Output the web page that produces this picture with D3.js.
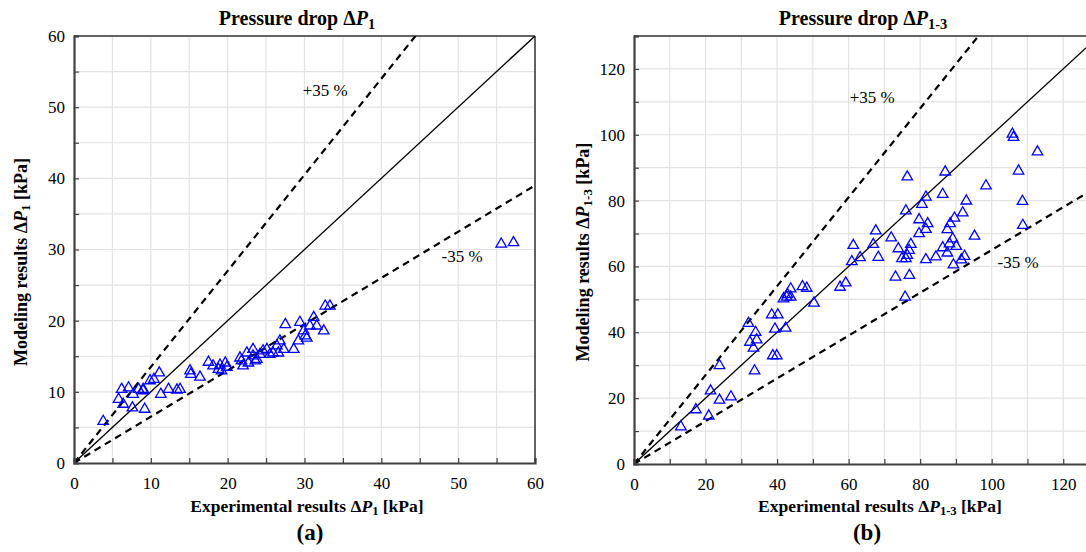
<!DOCTYPE html>
<html>
<head>
<meta charset="utf-8">
<script src="https://cdn.jsdelivr.net/npm/d3@7/dist/d3.min.js"></script>
<style>
  html, body { margin: 0; padding: 0; background: #fff; }
  svg { display: block; }
  text { font-family: "Liberation Serif", "Times New Roman", serif; fill: #000; }
</style>
</head>
<body>
<svg id="chart" width="1086" height="552"></svg>
<script>
// ---------- DATA ----------
// Panel (a): Pressure drop ΔP1
const expA = [3.8,6.2,7.1,7.7,5.8,6.4,7.6,8.4,9.0,9.0,9.2,9.9,10.4,11.1,11.3,12.3,13.4,13.8,15.1,15.2,16.4,17.5,18.1,18.8,19.0,19.7,19.9,19.2,21.6,21.8,22.0,22.5,22.7,23.3,23.3,23.6,23.8,24.2,24.6,25.1,25.5,25.9,26.4,26.8,27.3,26.6,27.5,28.6,29.2,29.4,29.9,30.1,30.3,30.7,31.2,31.6,32.5,32.7,33.3,55.6,57.2];
const modA = [6.0,10.5,10.7,9.8,9.1,8.4,7.9,10.5,10.5,10.3,7.7,11.7,11.9,12.8,9.8,10.5,10.4,10.5,13.1,12.6,12.2,14.3,13.8,13.3,13.9,14.2,13.6,13.1,14.9,14.5,13.8,15.6,14.2,16.1,15.2,14.5,14.7,15.4,15.9,16.1,15.4,15.6,16.6,17.3,16.1,15.6,19.6,16.1,17.3,19.9,18.7,18.0,17.7,19.4,20.6,19.4,18.7,22.2,22.2,30.9,31.1];
const ticksA = [0,10,20,30,40,50,60];

// Panel (b): Pressure drop ΔP1-3
const expB = [13.1,17.3,20.9,21.4,23.9,23.9,27.1,33.7,32.0,34.0,32.4,34.3,33.4,38.8,39.9,38.5,40.2,39.4,42.4,41.8,42.9,43.8,43.8,42.7,47.1,48.3,50.3,57.6,59.2,60.9,63.2,61.3,66.9,67.6,68.3,71.9,73.1,77.0,73.9,74.9,76.0,76.4,76.9,77.4,75.8,76.4,76.0,79.7,80.5,81.6,82.1,81.6,79.7,81.6,84.4,86.3,87.0,86.3,87.6,88.2,89.1,90.1,87.6,88.4,89.6,91.9,92.9,89.3,91.5,92.4,95.2,98.4,105.8,106.1,112.8,107.5,108.6,108.7];
const modB = [11.6,16.8,14.9,22.5,19.7,30.2,20.7,28.6,43.0,40.3,37.3,38.0,35.5,33.2,33.2,45.6,45.6,41.3,41.6,50.5,51.8,53.5,51.0,51.0,54.2,53.7,49.2,54.0,55.3,61.8,63.0,66.7,67.0,71.1,63.1,69.0,57.1,57.6,65.7,62.7,62.7,63.7,65.2,67.0,51.0,87.5,77.2,74.5,79.2,81.4,73.3,71.6,70.3,62.4,63.2,82.2,89.0,66.0,64.4,67.2,68.7,66.4,71.5,73.3,75.0,76.6,80.2,60.8,62.3,63.4,69.5,84.8,100.5,99.5,95.1,89.3,80.1,72.8];
const ticksB = [0,20,40,60,80,100,120];

const bandFactors = [1.35, 0.65];
const bandLabels = ["+35 %", "-35 %"];

// ---------- DRAW ----------
const svg = d3.select("#chart");

function panel(cfg) {
  const g = svg.append("g");
  const x = d3.scaleLinear().domain([0, cfg.max]).range([cfg.left, cfg.right]);
  const y = d3.scaleLinear().domain([0, cfg.max]).range([cfg.bottom, cfg.top]);

  const clipId = "clip" + cfg.id;
  svg.append("clipPath").attr("id", clipId).append("rect")
    .attr("x", cfg.left).attr("y", cfg.top)
    .attr("width", cfg.right - cfg.left).attr("height", cfg.bottom - cfg.top);

  const grid = d3.range(cfg.minor, cfg.max + 0.001, cfg.minor);
  g.append("g").selectAll("line").data(grid).join("line")
    .attr("x1", d => x(d)).attr("x2", d => x(d))
    .attr("y1", cfg.top).attr("y2", cfg.bottom)
    .attr("stroke", "#e3e3e3").attr("stroke-width", 1.2);
  g.append("g").selectAll("line").data(grid).join("line")
    .attr("x1", cfg.left).attr("x2", cfg.right)
    .attr("y1", d => y(d)).attr("y2", d => y(d))
    .attr("stroke", "#e3e3e3").attr("stroke-width", 1.2);

  g.append("line").attr("x1", cfg.left).attr("x2", cfg.right)
    .attr("y1", cfg.top).attr("y2", cfg.top)
    .attr("stroke", "#333").attr("stroke-width", 1.5);
  g.append("line").attr("x1", cfg.right).attr("x2", cfg.right)
    .attr("y1", cfg.top).attr("y2", cfg.bottom)
    .attr("stroke", "#333").attr("stroke-width", 1.5);

  const lines = g.append("g").attr("clip-path", `url(#${clipId})`);
  lines.append("line")
    .attr("x1", x(0)).attr("y1", y(0)).attr("x2", x(cfg.max)).attr("y2", y(cfg.max))
    .attr("stroke", "#000").attr("stroke-width", 1.3);
  bandFactors.forEach(f => {
    lines.append("line")
      .attr("x1", x(0)).attr("y1", y(0))
      .attr("x2", x(cfg.max)).attr("y2", y(cfg.max * f))
      .attr("stroke", "#000").attr("stroke-width", 2.2)
      .attr("stroke-dasharray", "7,5");
  });

  const tri = d3.symbol().type(d3.symbolTriangle).size(48);
  g.append("g").selectAll("path").data(cfg.xs.map((v, i) => [v, cfg.ys[i]])).join("path")
    .attr("d", tri)
    .attr("transform", d => `translate(${x(d[0])},${y(d[1]) + 1})`)
    .attr("fill", "none").attr("stroke", "#0000ff").attr("stroke-width", 1.3);

  const xMinor = d3.axisBottom(x).tickValues(d3.range(0, cfg.max + 0.001, cfg.minor))
    .tickSize(-5).tickFormat("");
  const yMinor = d3.axisLeft(y).tickValues(d3.range(0, cfg.max + 0.001, cfg.minor))
    .tickSize(-5).tickFormat("");
  const gx = g.append("g").attr("transform", `translate(0,${cfg.bottom})`).call(xMinor);
  const gy = g.append("g").attr("transform", `translate(${cfg.left},0)`).call(yMinor);
  [gx, gy].forEach(a => {
    a.select(".domain").attr("stroke", "#404040").attr("stroke-width", 2.2);
    a.selectAll(".tick line").attr("stroke", "#404040").attr("stroke-width", 1.2);
  });

  const xLab = d3.axisBottom(x).tickValues(cfg.ticks).tickSize(0).tickPadding(14);
  const yLab = d3.axisLeft(y).tickValues(cfg.ticks).tickSize(0).tickPadding(9);
  const lx = g.append("g").attr("transform", `translate(0,${cfg.bottom})`).call(xLab);
  const ly = g.append("g").attr("transform", `translate(${cfg.left},0)`).call(yLab);
  [lx, ly].forEach(a => {
    a.select(".domain").remove();
    a.selectAll("text").attr("font-family", "Liberation Serif, serif").attr("font-size", 17).attr("fill", "#000");
  });

  g.append("text").attr("x", x(cfg.plusPos[0])).attr("y", y(cfg.plusPos[1]))
    .attr("text-anchor", "middle").attr("font-size", 17).text(bandLabels[0]);
  g.append("text").attr("x", x(cfg.minusPos[0])).attr("y", y(cfg.minusPos[1]))
    .attr("text-anchor", "middle").attr("font-size", 17).text(bandLabels[1]);

  function rich(sel, pre, sub, post) {
    sel.append("tspan").text(pre);
    sel.append("tspan").attr("font-style", "italic").text("P");
    sel.append("tspan").attr("font-size", "0.72em").attr("dy", "0.25em").text(sub);
    if (post) sel.append("tspan").attr("dy", "-0.18em").text(post);
  }
  const t = g.append("text").attr("x", cfg.titleX).attr("y", 25)
    .attr("text-anchor", "middle").attr("font-weight", "bold").attr("font-size", 20);
  rich(t, "Pressure drop Δ", cfg.sub, null);

  const xt = g.append("text").attr("x", cfg.xTitleX).attr("y", 512)
    .attr("text-anchor", "middle").attr("font-weight", "bold").attr("font-size", 17.5);
  rich(xt, "Experimental results Δ", cfg.sub, " [kPa]");

  const yt = g.append("text")
    .attr("transform", `translate(${cfg.yTitleX},${cfg.yTitleY}) rotate(-90)`)
    .attr("text-anchor", "middle").attr("font-weight", "bold").attr("font-size", 18);
  rich(yt, "Modeling results Δ", cfg.sub, " [kPa]");

  g.append("text").attr("x", cfg.capX).attr("y", 540)
    .attr("text-anchor", "middle").attr("font-weight", "bold").attr("font-size", 23)
    .text(cfg.caption);
}

panel({
  id: "a", xs: expA, ys: modA, max: 60, minor: 5, ticks: ticksA,
  left: 74, right: 535, top: 36, bottom: 463,
  plusPos: [32.7, 51.6], minusPos: [50.5, 28.2],
  titleX: 297, xTitleX: 307, yTitleX: 27, yTitleY: 262, sub: "1", caption: "(a)", capX: 310
});
panel({
  id: "b", xs: expB, ys: modB, max: 130, minor: 10, ticks: ticksB,
  left: 634, right: 1099, top: 36, bottom: 464,
  plusPos: [66.6, 109.8], minusPos: [107.4, 59.4],
  titleX: 863, xTitleX: 880, yTitleX: 589, yTitleY: 252, sub: "1-3", caption: "(b)", capX: 867
});
</script>
</body>
</html>
